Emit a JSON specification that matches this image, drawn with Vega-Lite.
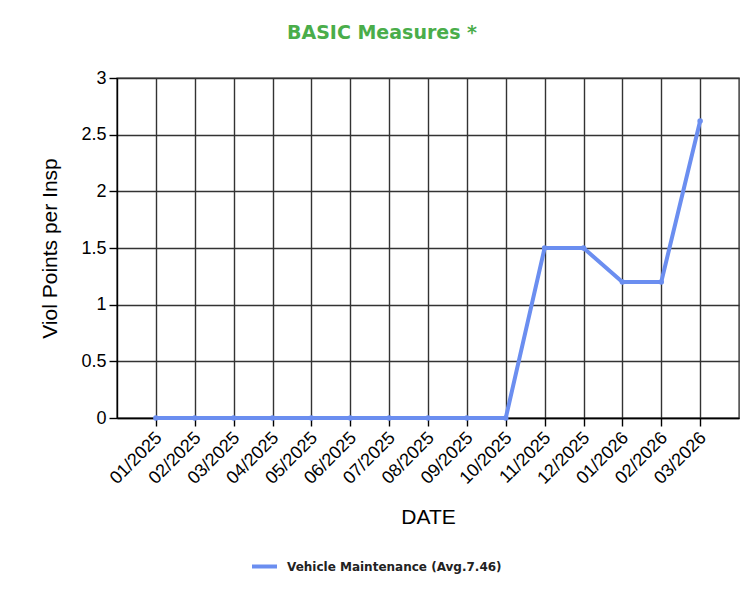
{
  "$schema": "https://vega.github.io/schema/vega-lite/v6.json",
  "width": 622,
  "height": 340,
  "autosize": {"type": "none"},
  "padding": {"left": 117, "top": 78, "right": 14, "bottom": 178},
  "background": "white",
  "title": {
    "text": "BASIC Measures *",
    "font": "DejaVu Sans",
    "fontSize": 19,
    "fontWeight": "bold",
    "color": "#4aad4a",
    "anchor": "middle",
    "dx": -46,
    "offset": 26
  },
  "data": {
    "values": [
      {"date": "01/2025", "value": 0, "series": "Vehicle Maintenance (Avg.7.46)"},
      {"date": "02/2025", "value": 0, "series": "Vehicle Maintenance (Avg.7.46)"},
      {"date": "03/2025", "value": 0, "series": "Vehicle Maintenance (Avg.7.46)"},
      {"date": "04/2025", "value": 0, "series": "Vehicle Maintenance (Avg.7.46)"},
      {"date": "05/2025", "value": 0, "series": "Vehicle Maintenance (Avg.7.46)"},
      {"date": "06/2025", "value": 0, "series": "Vehicle Maintenance (Avg.7.46)"},
      {"date": "07/2025", "value": 0, "series": "Vehicle Maintenance (Avg.7.46)"},
      {"date": "08/2025", "value": 0, "series": "Vehicle Maintenance (Avg.7.46)"},
      {"date": "09/2025", "value": 0, "series": "Vehicle Maintenance (Avg.7.46)"},
      {"date": "10/2025", "value": 0, "series": "Vehicle Maintenance (Avg.7.46)"},
      {"date": "11/2025", "value": 1.5, "series": "Vehicle Maintenance (Avg.7.46)"},
      {"date": "12/2025", "value": 1.5, "series": "Vehicle Maintenance (Avg.7.46)"},
      {"date": "01/2026", "value": 1.2, "series": "Vehicle Maintenance (Avg.7.46)"},
      {"date": "02/2026", "value": 1.2, "series": "Vehicle Maintenance (Avg.7.46)"},
      {"date": "03/2026", "value": 2.62, "series": "Vehicle Maintenance (Avg.7.46)"}
    ]
  },
  "mark": {"type": "line", "strokeWidth": 4, "point": {"filled": true, "size": 30}},
  "encoding": {
    "x": {
      "field": "date",
      "type": "ordinal",
      "sort": null,
      "scale": {"type": "point", "padding": 1},
      "axis": {
        "title": "DATE",
        "titleFont": "Liberation Sans",
        "titleFontSize": 21,
        "titleFontWeight": "normal",
        "titleColor": "#000",
        "titleBaseline": "alphabetic",
        "titleY": 105,
        "labelAngle": -45,
        "labelAlign": "right",
        "labelBaseline": "middle",
        "labelFont": "Liberation Sans",
        "labelFontSize": 18,
        "labelColor": "#000",
        "labelPadding": 9,
        "labelOffset": 3,
        "grid": true,
        "gridColor": "#333",
        "gridWidth": 1.4,
        "gridOpacity": 1,
        "domainColor": "#000",
        "domainWidth": 1.4,
        "tickColor": "#000",
        "tickSize": 8,
        "tickWidth": 1.4
      }
    },
    "y": {
      "field": "value",
      "type": "quantitative",
      "scale": {"domain": [0, 3], "nice": false},
      "axis": {
        "title": "Viol Points per Insp",
        "titleFont": "Liberation Sans",
        "titleFontSize": 21,
        "titleFontWeight": "normal",
        "titleColor": "#000",
        "titleAngle": -90,
        "titleAlign": "center",
        "titleBaseline": "middle",
        "titleX": -67,
        "titleY": 170,
        "values": [0, 0.5, 1, 1.5, 2, 2.5, 3],
        "format": "~g",
        "labelFont": "Liberation Sans",
        "labelFontSize": 18,
        "labelColor": "#000",
        "labelPadding": 3,
        "grid": true,
        "gridColor": "#333",
        "gridWidth": 1.4,
        "gridOpacity": 1,
        "domainColor": "#000",
        "domainWidth": 1.4,
        "tickColor": "#000",
        "tickSize": 8,
        "tickWidth": 1.4
      }
    },
    "color": {
      "field": "series",
      "type": "nominal",
      "scale": {"range": ["#6b8ef0"]},
      "legend": {
        "title": null,
        "orient": "none",
        "legendX": 133,
        "legendY": 474,
        "padding": 0,
        "symbolType": "stroke",
        "symbolStrokeWidth": 4,
        "symbolSize": 625,
        "symbolStrokeColor": "#6b8ef0",
        "labelFont": "DejaVu Sans",
        "labelFontSize": 12,
        "labelFontWeight": "bold",
        "labelColor": "#222",
        "labelOffset": 8,
        "labelLimit": 0
      }
    }
  },
  "config": {
    "view": {"stroke": "#333", "strokeWidth": 1.4}
  }
}
